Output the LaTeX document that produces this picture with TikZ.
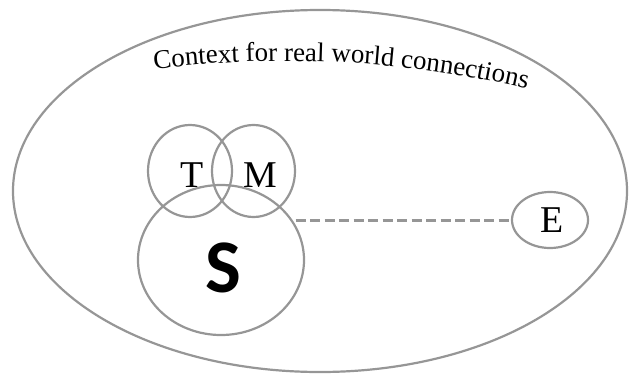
\documentclass[tikz,border=0pt]{standalone}
\usepackage{fontspec}
\setmainfont{Liberation Serif}
\newfontfamily\sbold{Carlito}
\usetikzlibrary{shapes.geometric,decorations.text}
\definecolor{linegray}{RGB}{150,150,150}
\begin{document}
\begin{tikzpicture}[x=1bp,y=1bp,
  ring/.style={ellipse,draw=linegray,line width=2.2bp,inner sep=0pt},
  letter/.style={inner sep=0pt,font=\fontsize{38}{40}\selectfont},
  link/.style={draw=linegray,line width=3bp,dash pattern=on 10bp off 4.5bp}]
\useasboundingbox (0,0) rectangle (629,375);
\node[ring,minimum width=614bp,minimum height=362bp] (C) at (320,184) {};
\node[ring,minimum width=84bp,minimum height=92bp] (T) at (190,204) {};
\node[ring,minimum width=83bp,minimum height=92bp] (M) at (253.5,204) {};
\node[ring,minimum width=166bp,minimum height=150bp] (S) at (221,115) {};
\node[ring,minimum width=76bp,minimum height=56bp] (E) at (550,155) {};
\node[letter] (Tl) at (192,200) {T};
\node[letter] (Ml) at (260,200) {M};
\node[letter] (El) at (552,155) {E};
\node[inner sep=0pt,font=\sbold\bfseries\fontsize{76}{78}\selectfont] (Sl) at (223,107) {S};
\draw[link] ([xshift=3bp]S.29 |- E.west) -- (E.west);
\path[decorate,decoration={text along path,text align=center,
  text={|\fontsize{27}{29}\selectfont|Context for real world connections}}]
  (286,-746) ++(99:1060) arc[start angle=99,end angle=75,radius=1060];
\end{tikzpicture}
\end{document}
